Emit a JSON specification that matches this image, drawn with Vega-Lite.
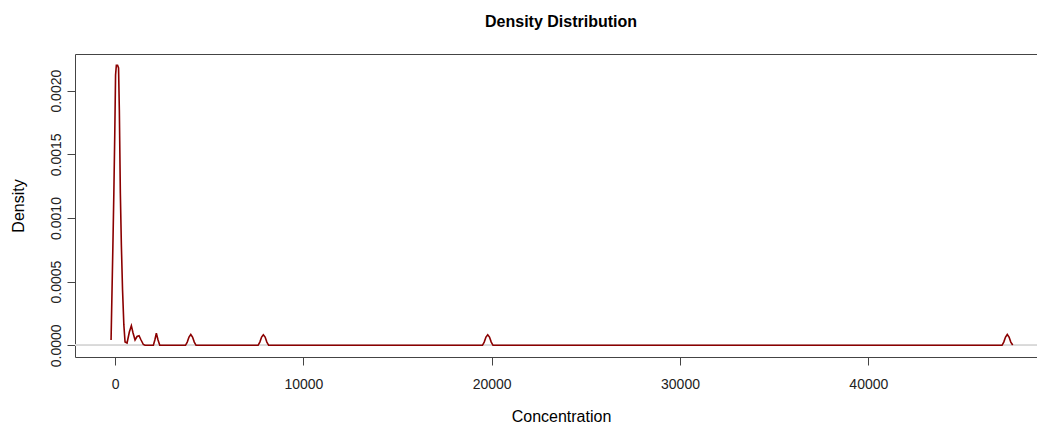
{
  "$schema": "https://vega.github.io/schema/vega-lite/v6.json",
  "autosize": {"type": "none"},
  "padding": {"left": 75, "top": 54, "right": 0, "bottom": 67},
  "width": 962,
  "height": 303,
  "background": "white",
  "title": {
    "text": "Density Distribution",
    "font": "Liberation Sans",
    "fontSize": 16,
    "fontWeight": "bold",
    "color": "#000000",
    "anchor": "middle",
    "offset": 24,
    "dx": 5
  },
  "config": {
    "view": {"stroke": "#444444", "strokeWidth": 1},
    "axis": {
      "grid": false,
      "domain": false,
      "tickColor": "#444444",
      "tickSize": 8,
      "labelFont": "Liberation Sans",
      "labelFontSize": 14,
      "labelColor": "#222222",
      "titleFont": "Liberation Sans",
      "titleFontSize": 16,
      "titleFontWeight": "normal",
      "titleColor": "#000000"
    }
  },
  "data": {
    "values": [
      {"x": -212, "y": 0.0000416},
      {"x": -117, "y": 0.000764},
      {"x": -64, "y": 0.001196},
      {"x": -16, "y": 0.00165},
      {"x": 27, "y": 0.002123},
      {"x": 69, "y": 0.0022},
      {"x": 133, "y": 0.0022},
      {"x": 186, "y": 0.002178},
      {"x": 228, "y": 0.001848},
      {"x": 281, "y": 0.001196},
      {"x": 335, "y": 0.000788},
      {"x": 398, "y": 0.000435},
      {"x": 467, "y": 0.00016},
      {"x": 531, "y": 0.000026},
      {"x": 637, "y": 0.000018},
      {"x": 759, "y": 0.000104},
      {"x": 866, "y": 0.000154},
      {"x": 956, "y": 0.0000966},
      {"x": 1062, "y": 0.0000416},
      {"x": 1168, "y": 0.0000691},
      {"x": 1274, "y": 0.0000754},
      {"x": 1381, "y": 0.0000416},
      {"x": 1503, "y": 0.0000063},
      {"x": 1593, "y": 0},
      {"x": 2034, "y": 0},
      {"x": 2113, "y": 0.0000416},
      {"x": 2193, "y": 0.0000943},
      {"x": 2283, "y": 0.0000416},
      {"x": 2374, "y": 0},
      {"x": 3740, "y": 0},
      {"x": 3834, "y": 0.000025},
      {"x": 3927, "y": 0.000065},
      {"x": 4021, "y": 0.000085},
      {"x": 4114, "y": 0.000065},
      {"x": 4208, "y": 0.000025},
      {"x": 4301, "y": 0},
      {"x": 7595, "y": 0},
      {"x": 7688, "y": 0.000025},
      {"x": 7782, "y": 0.000065},
      {"x": 7875, "y": 0.000082},
      {"x": 7969, "y": 0.000065},
      {"x": 8062, "y": 0.000025},
      {"x": 8156, "y": 0},
      {"x": 19510, "y": 0},
      {"x": 19603, "y": 0.000025},
      {"x": 19697, "y": 0.000065},
      {"x": 19790, "y": 0.000082},
      {"x": 19884, "y": 0.000065},
      {"x": 19977, "y": 0.000025},
      {"x": 20071, "y": 0},
      {"x": 47100, "y": 0},
      {"x": 47193, "y": 0.000025},
      {"x": 47287, "y": 0.000065},
      {"x": 47380, "y": 0.000085},
      {"x": 47474, "y": 0.000065},
      {"x": 47567, "y": 0.000025},
      {"x": 47667, "y": 0.000002}
    ]
  },
  "encoding": {
    "x": {
      "field": "x",
      "type": "quantitative",
      "scale": {"domain": [-2127, 48958], "nice": false, "zero": false},
      "axis": {
        "title": "Concentration",
        "values": [0, 10000, 20000, 30000, 40000],
        "format": "d",
        "labelPadding": 12,
        "titlePadding": 17,
        "titleX": 486
      }
    },
    "y": {
      "field": "y",
      "type": "quantitative",
      "scale": {"domain": [-0.0000919, 0.002288], "nice": false, "zero": false},
      "axis": {
        "title": "Density",
        "values": [0, 0.0005, 0.001, 0.0015, 0.002],
        "format": ".4f",
        "labelAngle": -90,
        "labelAlign": "center",
        "labelBaseline": "bottom",
        "labelPadding": 4,
        "titlePadding": 23
      }
    }
  },
  "layer": [
    {
      "mark": {"type": "rule", "color": "#d9d9d9", "strokeWidth": 1},
      "encoding": {"y": {"datum": 0}, "x": {"value": 0}, "x2": {"value": 962}}
    },
    {
      "mark": {"type": "line", "color": "#8B0000", "strokeWidth": 1.6, "interpolate": "linear"}
    }
  ]
}
